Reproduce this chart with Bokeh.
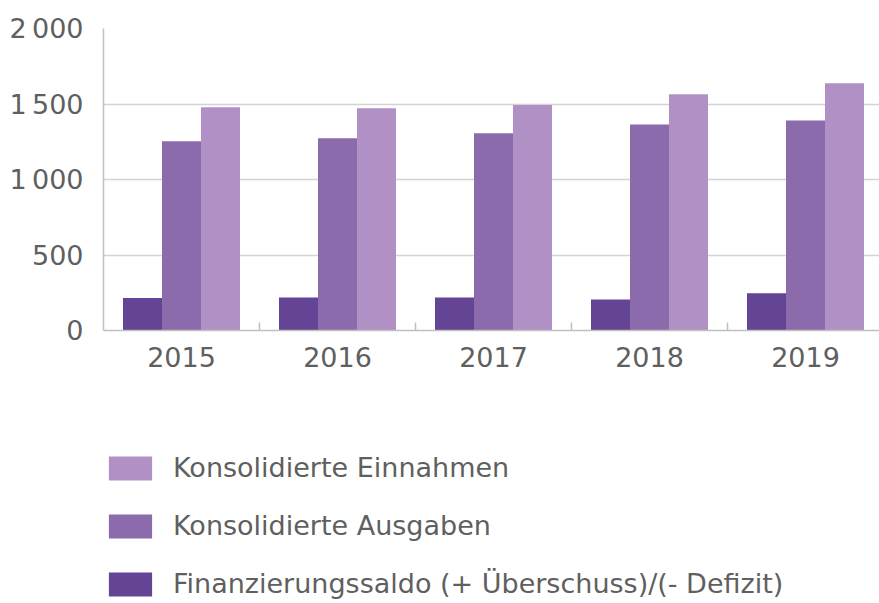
import numpy as np
from bokeh.plotting import figure
from bokeh.layouts import column
from bokeh.models import (ColumnDataSource, Range1d, FixedTicker, Legend, LegendItem)
from bokeh.transform import dodge
from bokeh.embed import file_html
from bokeh.resources import INLINE

years = ["2015", "2016", "2017", "2018", "2019"]
saldo = [216, 218, 218, 205, 247]
ausgaben = [1254, 1273, 1306, 1364, 1391]
einnahmen = [1479, 1472, 1494, 1565, 1638]
y_ticks = [0, 500, 1000, 1500, 2000]
y_tick_labels = ["0", "500", "1\u2009000", "1\u2009500", "2\u2009000"]

labels = ["Konsolidierte Einnahmen", "Konsolidierte Ausgaben",
          "Finanzierungssaldo (+ Überschuss)/(- Defizit)"]
colors = {"saldo": "#644495", "ausgaben": "#8c6bad", "einnahmen": "#b191c5"}

FONT = "DejaVu Sans"
TXT = "#5f5f5f"
FS = "27px"

x = np.arange(len(years)) + 0.5
src = ColumnDataSource(dict(x=x, saldo=saldo, ausgaben=ausgaben, einnahmen=einnahmen))

W = 879
p = figure(width=W, height=390, output_backend="svg", toolbar_location=None,
           x_range=Range1d(0, 776 / 156), y_range=Range1d(0, 2000),
           min_border_left=103, min_border_right=0, min_border_top=28,
           min_border_bottom=60)
p.outline_line_color = None
p.background_fill_color = "white"
p.border_fill_color = "white"

bw = 0.25
r_s = p.vbar(x=dodge("x", -bw, range=p.x_range), top="saldo", width=bw, source=src,
             fill_color=colors["saldo"], line_color=None)
r_a = p.vbar(x=dodge("x", 0, range=p.x_range), top="ausgaben", width=bw, source=src,
             fill_color=colors["ausgaben"], line_color=None)
r_e = p.vbar(x=dodge("x", bw, range=p.x_range), top="einnahmen", width=bw, source=src,
             fill_color=colors["einnahmen"], line_color=None)

# x axis
xa = p.xaxis[0]
xa.ticker = FixedTicker(ticks=list(x), minor_ticks=list(np.arange(1, len(years))))
xa.major_label_overrides = {float(v): yr for v, yr in zip(x, years)}
xa.major_tick_line_color = None
xa.minor_tick_in = 8
xa.minor_tick_out = 0
xa.minor_tick_line_color = "#c0c0c0"
xa.minor_tick_line_width = 1.5
xa.axis_line_color = "#c0c0c0"
xa.axis_line_width = 1.5
xa.major_label_text_font = FONT
xa.major_label_text_font_size = FS
xa.major_label_text_color = TXT
xa.major_label_standoff = 10

# y axis
ya = p.yaxis[0]
ya.ticker = FixedTicker(ticks=y_ticks)
ya.major_label_overrides = {t: l for t, l in zip(y_ticks, y_tick_labels)}
ya.major_tick_line_color = None
ya.minor_tick_line_color = None
ya.axis_line_color = "#c0c0c0"
ya.axis_line_width = 1.5
ya.major_label_text_font = FONT
ya.major_label_text_font_size = FS
ya.major_label_text_color = TXT
ya.major_label_standoff = 14

p.xgrid.grid_line_color = None
p.ygrid.ticker = FixedTicker(ticks=y_ticks)
p.ygrid.grid_line_color = "#d4d4d4"
p.ygrid.grid_line_width = 1.5

# legend figure (its bars lie outside its visible range; only the swatches show)
lf = figure(width=W, height=213, output_backend="svg", toolbar_location=None,
            x_axis_location=None, y_axis_location=None,
            x_range=Range1d(-20, -19), y_range=Range1d(0, 1),
            min_border_left=99, min_border_top=62, min_border_right=0, min_border_bottom=0)
lf.outline_line_color = None
lf.grid.grid_line_color = None
l_e = lf.vbar(x="x", top="einnahmen", width=bw, source=src, fill_color=colors["einnahmen"], line_color=None)
l_a = lf.vbar(x="x", top="ausgaben", width=bw, source=src, fill_color=colors["ausgaben"], line_color=None)
l_s = lf.vbar(x="x", top="saldo", width=bw, source=src, fill_color=colors["saldo"], line_color=None)

legend = Legend(items=[LegendItem(label=labels[0], renderers=[l_e]),
                       LegendItem(label=labels[1], renderers=[l_a]),
                       LegendItem(label=labels[2], renderers=[l_s])],
                location="top_left", orientation="vertical")
legend.border_line_color = None
legend.background_fill_alpha = 0
legend.margin = 0
legend.padding = 0
legend.glyph_width = 54
legend.glyph_height = 30
legend.label_height = 30
legend.spacing = 27
legend.label_standoff = 16
legend.label_text_font = FONT
legend.label_text_font_size = FS
legend.label_text_color = TXT
lf.add_layout(legend)

layout = column(p, lf, spacing=0)
open("out.html", "w").write(file_html(layout, INLINE))
